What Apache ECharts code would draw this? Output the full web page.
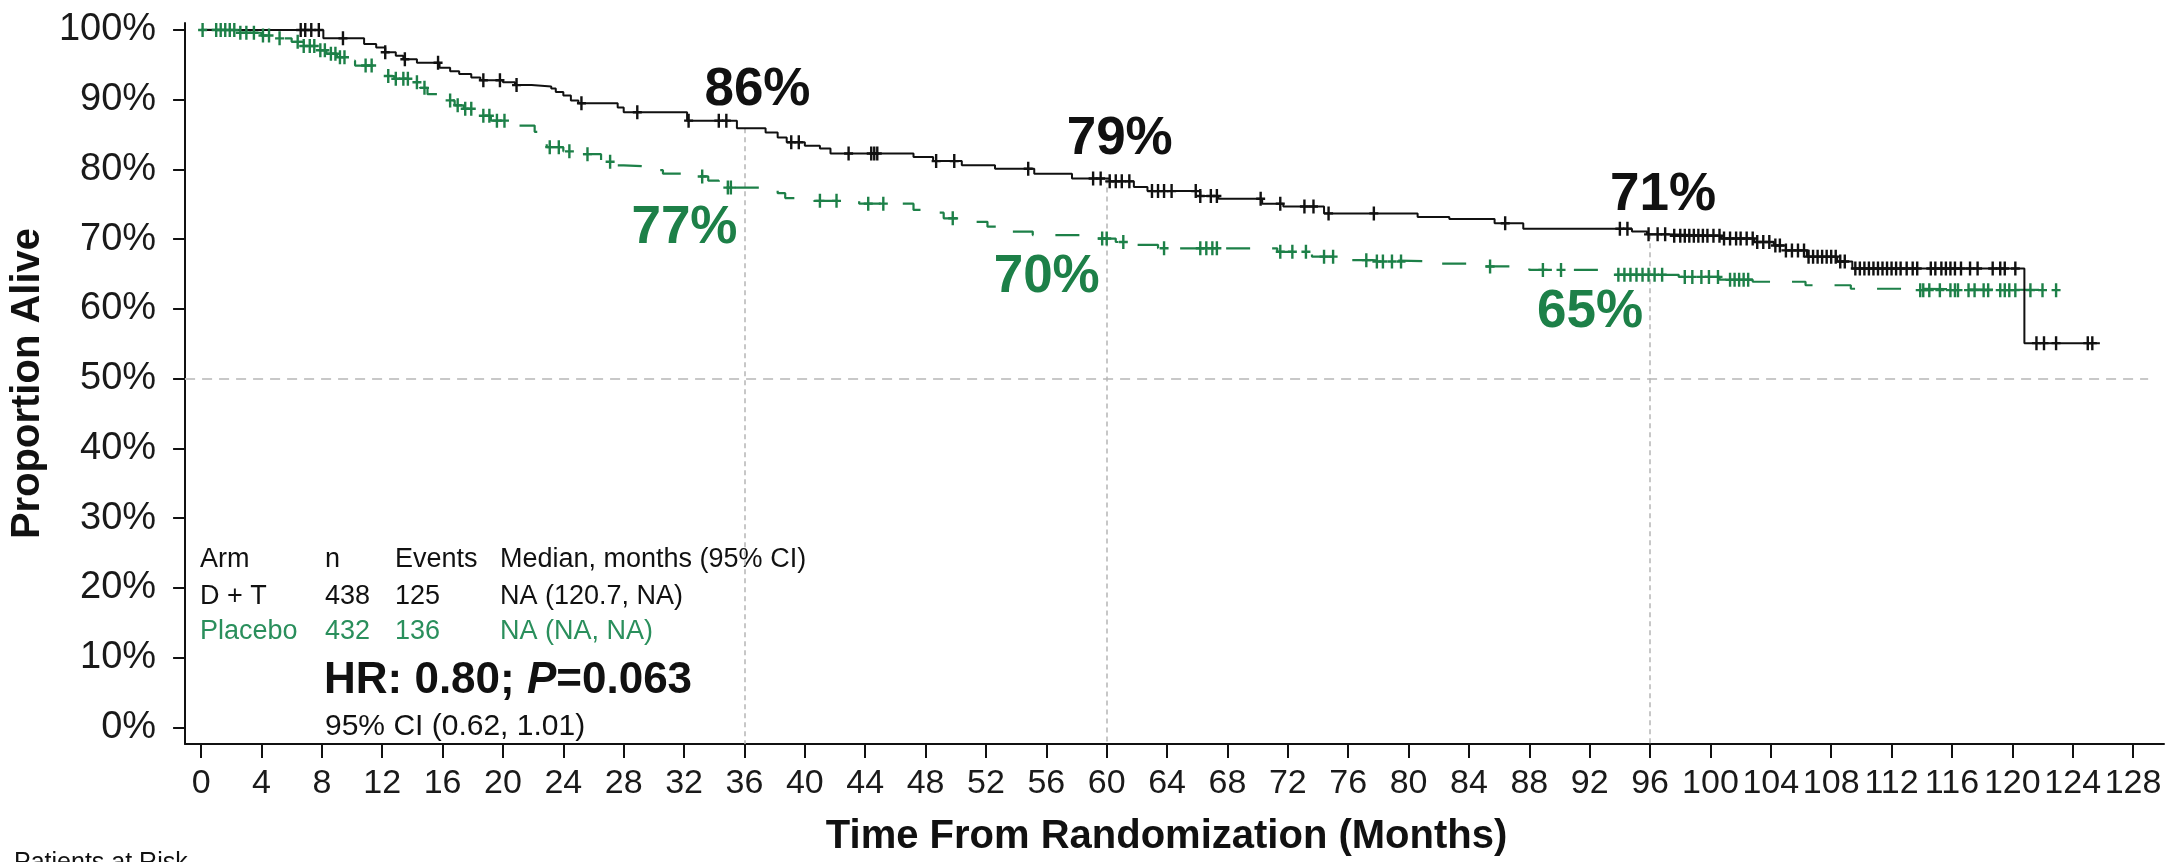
<!DOCTYPE html>
<html>
<head>
<meta charset="utf-8">
<title>Overall survival – D + T vs Placebo</title>
<script src="https://cdn.jsdelivr.net/npm/echarts@6/dist/echarts.min.js"></script>
<style>
  html, body { margin: 0; padding: 0; background: #ffffff; }
  #chart { width: 2169px; height: 862px; }
</style>
</head>
<body>
<div id="chart"></div>
<script>
// Kaplan–Meier step points: survival (%) holds from each time (months) until the next one
const dtTimes = [0, 8.1, 10.8, 11.6, 12.2, 12.9, 13.4, 14.3, 15.8, 16.5, 17.1, 17.9, 18.5, 20.0, 20.8, 21.9, 23.2, 23.5, 24.0, 24.5,
  25.0, 27.6, 28.0, 32.2, 35.5, 37.4, 38.2, 38.8, 40.0, 41.0, 41.7, 47.2, 48.5, 50.4, 52.6, 55.2, 57.7, 60.2, 61.8, 62.7,
  66.2, 67.4, 70.3, 71.7, 74.4, 80.6, 82.7, 85.7, 87.6, 94.8, 95.8, 97.1, 100.7, 102.9, 104.2, 105.0, 106.4, 108.4, 109.4, 120.8, 125.8];
const dtSurv = [100, 98.8, 98.0, 97.5, 96.8, 96.3, 95.8, 95.3, 94.6, 94.1, 93.7, 93.2, 92.8, 92.5, 92.1, 91.9, 91.6, 91.1, 90.6, 89.9,
  89.5, 88.9, 88.2, 87.0, 85.9, 85.3, 84.6, 83.9, 83.4, 83.0, 82.3, 81.8, 81.2, 80.6, 80.1, 79.4, 78.7, 78.3, 77.5, 76.9,
  76.2, 75.8, 75.1, 74.7, 73.7, 73.2, 72.9, 72.3, 71.5, 71.1, 70.7, 70.5, 70.1, 69.6, 69.1, 68.4, 67.5, 66.8, 65.8, 55.1, 55.1];

const pbTimes = [0, 2.5, 4.0, 5.2, 6.0, 6.8, 7.6, 8.3, 9.0, 9.6, 10.2, 11.8, 12.8, 13.9, 14.5, 15.0, 16.0, 16.8, 17.4, 18.3,
  19.2, 20.5, 22.1, 22.5, 22.9, 24.0, 25.0, 26.5, 27.4, 28.0, 29.8, 30.6, 32.4, 33.6, 34.3, 38.2, 38.7, 40.6, 43.6, 47.2,
  48.2, 49.2, 50.2, 52.1, 52.8, 55.1, 58.2, 60.6, 61.6, 63.4, 71.3, 73.6, 75.3, 77.6, 82.1, 84.9, 88.0, 93.4, 97.9, 100.6,
  102.8, 106.3, 109.3, 112.5, 123.2];
const pbSurv = [100, 99.6, 99.2, 98.8, 98.3, 97.7, 97.1, 96.6, 96.1, 95.6, 94.9, 93.4, 93.0, 92.5, 91.7, 90.8, 89.9, 89.2, 88.7, 87.7,
  87.0, 86.3, 85.4, 84.0, 83.2, 82.6, 82.2, 81.1, 80.6, 80.4, 79.9, 79.4, 79.0, 78.4, 77.4, 76.6, 75.9, 75.5, 75.1, 74.2,
  73.8, 73.0, 72.5, 71.8, 71.1, 70.6, 70.1, 69.6, 69.2, 68.7, 68.2, 67.5, 67.0, 66.8, 66.5, 66.1, 65.6, 64.9, 64.6, 64.2,
  63.9, 63.4, 62.9, 62.7, 62.7];

// Censoring times (months)
const dtCensorTimes = [6.6, 6.9, 7.3, 7.8, 9.4, 12.2, 13.5, 15.7, 18.7, 19.8, 20.9, 25.2, 28.9, 32.3, 34.3, 34.8, 39.1, 39.6,
  42.9, 44.4, 44.6, 44.8, 48.7, 49.9, 54.8, 59.1, 59.6, 60.2, 60.6, 61.0, 61.5, 63.0, 63.4, 63.8, 64.3, 65.9, 66.2, 66.9,
  67.3, 70.2, 71.5, 73.1, 73.7, 74.7, 77.7, 86.4, 94.0, 94.5, 95.9, 96.5, 97.0, 97.6, 98.0, 98.3, 98.6, 98.9, 99.2, 99.5,
  99.8, 100.2, 100.6, 100.9, 101.3, 101.7, 102.0, 102.4, 102.8, 103.1, 103.5, 103.9, 104.3, 104.6, 105.0, 105.4, 105.8,
  106.2, 106.5, 106.8, 107.1, 107.4, 107.7, 108.0, 108.3, 108.6, 108.9, 109.6, 109.9, 110.2, 110.5, 110.8, 111.1, 111.4,
  111.7, 112.0, 112.3, 112.6, 113.0, 113.4, 113.7, 114.6, 114.9, 115.3, 115.6, 115.9, 116.2, 116.6, 117.2, 117.7, 118.7,
  119.2, 119.5, 120.2, 121.6, 122.1, 122.9, 125.0, 125.3];
const pbCensorTimes = [0.1, 1.0, 1.3, 1.6, 1.9, 2.2, 2.6, 3.0, 3.5, 4.1, 4.5, 5.2, 6.4, 6.8, 7.2, 7.5, 7.9, 8.2, 8.6, 8.9,
  9.2, 9.5, 10.9, 11.3, 12.4, 12.9, 13.4, 13.7, 14.3, 14.8, 16.5, 17.0, 17.5, 17.9, 18.7, 19.1, 19.6, 20.1, 23.1, 23.7,
  24.4, 25.6, 27.1, 33.2, 34.9, 35.1, 41.0, 42.1, 44.2, 45.2, 49.8, 59.7, 60.0, 61.1, 63.8, 66.2, 66.6, 67.0, 67.3, 71.5,
  72.3, 73.2, 74.4, 75.0, 77.2, 77.9, 78.3, 78.9, 79.5, 85.4, 88.9, 90.1, 93.9, 94.3, 94.7, 95.1, 95.5, 95.9, 96.3, 96.8,
  98.3, 98.8, 99.4, 99.9, 100.5, 101.3, 101.6, 101.9, 102.2, 102.5, 113.9, 114.1, 114.5, 115.2, 115.9, 116.2, 116.4, 117.1,
  117.5, 118.1, 118.4, 119.2, 119.5, 119.8, 120.2, 121.2, 122.0, 122.9];

// Landmark survival estimates
const landmarkMonths = [36, 60, 96];
const dtLandmarkPct = [86, 79, 71];
const pbLandmarkPct = [77, 70, 65];

// Axis ticks
const xTicks = [0, 4, 8, 12, 16, 20, 24, 28, 32, 36, 40, 44, 48, 52, 56, 60, 64, 68, 72, 76, 80, 84, 88, 92, 96, 100, 104, 108, 112, 116, 120, 124, 128];
const yTicks = [0, 10, 20, 30, 40, 50, 60, 70, 80, 90, 100];

// Summary table
const tableHeader = ['Arm', 'n', 'Events', 'Median, months (95% CI)'];
const armNames = ['D + T', 'Placebo'];
const armN = [438, 432];
const armEvents = [125, 136];
const armMedian = ['NA (120.7, NA)', 'NA (NA, NA)'];
const hazardRatio = '0.80';
const pValue = '0.063';
const hrCI = '(0.62, 1.01)';

const X_MIN = -1.06, X_MAX = 130.05;
const Y_MIN = -2.37, Y_MAX = 101.0;

const BLACK = '#111111';
const GREEN = '#1d8048';
const GREEN_TEXT = '#2a8f5c';
const FONT = '"Liberation Sans", Arial, Helvetica, sans-serif';

function pairs(ts, vs) { return ts.map((t, i) => [t, vs[i]]); }
function survAt(ts, vs, t) {
  let v = vs[0];
  for (let i = 0; i < ts.length; i++) { if (ts[i] <= t) v = vs[i]; else break; }
  return v;
}

const dtCurve = pairs(dtTimes, dtSurv);
const pbCurve = pairs(pbTimes, pbSurv);
const dtCensor = dtCensorTimes.map(t => [t, survAt(dtTimes, dtSurv, t)]);
const pbCensor = pbCensorTimes.map(t => [t, survAt(pbTimes, pbSurv, t)]);

// "+" censor glyph: 9 wide, 14 tall, ~2.4px strokes
const PLUS = 'path://M3.3,0L5.7,0L5.7,5.8L9,5.8L9,8.2L5.7,8.2L5.7,14L3.3,14L3.3,8.2L0,8.2L0,5.8L3.3,5.8Z';

const chart = echarts.init(document.getElementById('chart'), null, { renderer: 'canvas' });

const tableRowsY = [559.5, 596.5, 631.5];
const tableColsX = [200, 325, 395, 500];
const TABLE_SIZE = 27;

const graphics = [];
tableHeader.forEach((h, c) => graphics.push({
  type: 'text', x: tableColsX[c], y: tableRowsY[0],
  style: { text: h, fill: BLACK, font: TABLE_SIZE + 'px ' + FONT, align: 'left', verticalAlign: 'middle' }
}));
armNames.forEach((name, r) => {
  const cells = [name, String(armN[r]), String(armEvents[r]), armMedian[r]];
  cells.forEach((txt, c) => graphics.push({
    type: 'text', x: tableColsX[c], y: tableRowsY[r + 1],
    style: { text: txt, fill: r === 0 ? BLACK : GREEN_TEXT, font: TABLE_SIZE + 'px ' + FONT, align: 'left', verticalAlign: 'middle' }
  }));
});
graphics.push({
  type: 'text', x: 324, y: 681,
  style: {
    text: '{b|HR: ' + hazardRatio + '; }{i|P}{b|=' + pValue + '}',
    align: 'left', verticalAlign: 'middle',
    rich: {
      b: { fontSize: 44, fontWeight: 'bold', fontFamily: FONT, fill: BLACK, color: BLACK },
      i: { fontSize: 44, fontWeight: 'bold', fontStyle: 'italic', fontFamily: FONT, fill: BLACK, color: BLACK }
    }
  }
});
graphics.push({
  type: 'text', x: 325, y: 727,
  style: { text: '95% CI ' + hrCI, fill: BLACK, font: '30px ' + FONT, align: 'left', verticalAlign: 'middle' }
});
graphics.push({
  type: 'text', x: 14, y: 851,
  style: { text: 'Patients at Risk', fill: BLACK, font: '25px ' + FONT, align: 'left', verticalAlign: 'top' }
});

const landmarkLabel = (offset, color) => ({
  show: true, position: 'inside', offset: offset,
  formatter: p => p.value[1] + '%',
  fontSize: 53, fontWeight: 'bold', color: color, opacity: 1, fontFamily: FONT
});

const option = {
  animation: false,
  backgroundColor: '#ffffff',
  textStyle: { fontFamily: FONT },
  grid: { left: 179, top: 23, width: 1985, height: 724, containLabel: false },
  xAxis: {
    type: 'value', min: X_MIN, max: X_MAX,
    name: 'Time From Randomization (Months)',
    nameLocation: 'middle', nameGap: 73,
    nameTextStyle: { fontSize: 40, fontWeight: 'bold', color: BLACK, fontFamily: FONT, padding: [0, 16, 0, 0] },
    axisLine: { show: true, onZero: false, lineStyle: { color: BLACK, width: 2 } },
    axisTick: { show: true, customValues: xTicks, length: 14, inside: false, lineStyle: { color: BLACK, width: 2 } },
    axisLabel: { customValues: xTicks, fontSize: 34, color: '#1a1a1a', margin: 23, fontFamily: FONT },
    splitLine: { show: false }
  },
  yAxis: {
    type: 'value', min: Y_MIN, max: Y_MAX,
    name: 'Proportion Alive',
    nameLocation: 'middle', nameGap: 112, nameRotate: 90,
    nameTextStyle: { fontSize: 40, fontWeight: 'bold', color: BLACK, fontFamily: FONT },
    axisLine: { show: true, onZero: false, lineStyle: { color: BLACK, width: 2 } },
    axisTick: { show: true, customValues: yTicks, length: 12, inside: false, lineStyle: { color: BLACK, width: 2 } },
    axisLabel: { customValues: yTicks, fontSize: 38, color: '#1a1a1a', margin: 29, formatter: '{value}%', fontFamily: FONT },
    splitLine: { show: false }
  },
  series: [
    {
      name: 'Placebo', type: 'line', step: 'end', data: pbCurve, symbol: 'none', z: 3,
      lineStyle: { color: GREEN, width: 2.2, type: [24, 22] },
      markLine: {
        silent: true, symbol: 'none', label: { show: false }, z: 1,
        lineStyle: { color: '#c8c8c8', width: 2, type: [10, 7] },
        data: [[{ coord: [X_MIN, 50] }, { coord: [129.0, 50] }]]
      }
    },
    {
      name: 'D + T', type: 'line', step: 'end', data: dtCurve, symbol: 'none', z: 4,
      lineStyle: { color: BLACK, width: 2 },
      markLine: {
        silent: true, symbol: 'none', label: { show: false }, z: 1,
        lineStyle: { color: '#b5b5b5', width: 1.5, type: [5, 4] },
        data: landmarkMonths.map(t => [{ coord: [t, survAt(dtTimes, dtSurv, t)] }, { coord: [t, Y_MIN] }])
      }
    },
    {
      name: 'Placebo censored', type: 'scatter', data: pbCensor, z: 5,
      symbol: PLUS, symbolSize: [9, 14], symbolKeepAspect: false,
      itemStyle: { color: GREEN, opacity: 1 }
    },
    {
      name: 'D + T censored', type: 'scatter', data: dtCensor, z: 6,
      symbol: PLUS, symbolSize: [9, 14], symbolKeepAspect: false,
      itemStyle: { color: BLACK, opacity: 1 }
    },
    {
      name: 'D + T landmarks', type: 'scatter', symbolSize: 0, z: 7, silent: true,
      itemStyle: { opacity: 1 },
      data: landmarkMonths.map((t, i) => [t, dtLandmarkPct[i]]),
      label: landmarkLabel([13, -37], BLACK)
    },
    {
      name: 'Placebo landmarks', type: 'scatter', symbolSize: 0, z: 7, silent: true,
      itemStyle: { opacity: 1 },
      data: landmarkMonths.map((t, i) => [t, pbLandmarkPct[i]]),
      label: landmarkLabel([-60, 38], GREEN)
    }
  ],
  graphic: graphics
};

chart.setOption(option);
</script>
</body>
</html>
